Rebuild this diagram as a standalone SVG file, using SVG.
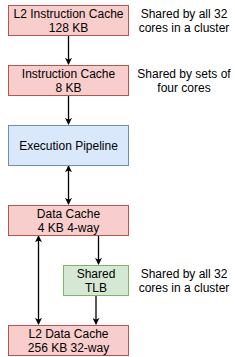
<svg xmlns="http://www.w3.org/2000/svg" width="235" height="357" viewBox="0 0 235 357">
<style>
text{font-family:"Liberation Sans",Arial,sans-serif;font-size:12px;fill:#000;text-anchor:middle}
.r{fill:#f8cecc;stroke:#b85450}
.b{fill:#dae8fc;stroke:#6c8ebf}
.g{fill:#d5e8d4;stroke:#82b366}
.c{stroke:#000;stroke-width:1.3;fill:none}
</style>
<defs>
<marker id="a" viewBox="0 0 8 8" refX="7" refY="4" markerWidth="7" markerHeight="7" markerUnits="userSpaceOnUse" orient="auto-start-reverse">
<path d="M0,0 L8,4 L0,8 L2,4 Z" fill="#000"/>
</marker>
</defs>
<g id="connectors">
<line class="c" x1="68.5" y1="35" x2="68.5" y2="64" marker-end="url(#a)"/>
<line class="c" x1="68.5" y1="95" x2="68.5" y2="124" marker-end="url(#a)"/>
<line class="c" x1="68.5" y1="166" x2="68.5" y2="204" marker-start="url(#a)" marker-end="url(#a)"/>
<line class="c" x1="98.5" y1="235" x2="98.5" y2="264" marker-end="url(#a)"/>
<line class="c" x1="96" y1="295" x2="96" y2="324" marker-end="url(#a)"/>
<line class="c" x1="38.5" y1="236" x2="38.5" y2="324" marker-start="url(#a)" marker-end="url(#a)"/>
</g>
<g id="l2ic"><rect class="r" x="8.5" y="5.5" width="120" height="30"/><text x="68.5" y="18">L2 Instruction Cache</text><text x="68.5" y="32">128 KB</text></g>
<g id="ic"><rect class="r" x="8.5" y="65.5" width="120" height="30"/><text x="68.5" y="78">Instruction Cache</text><text x="68.5" y="92">8 KB</text></g>
<g id="ep"><rect class="b" x="8.5" y="125.5" width="120" height="40"/><text x="68.5" y="149.5">Execution Pipeline</text></g>
<g id="dc"><rect class="r" x="8.5" y="205.5" width="120" height="30"/><text x="68.5" y="218">Data Cache</text><text x="68.5" y="232">4 KB 4-way</text></g>
<g id="tlb"><rect class="g" x="63.5" y="265.5" width="65" height="30"/><text x="96" y="278">Shared</text><text x="96" y="292">TLB</text></g>
<g id="l2dc"><rect class="r" x="8.5" y="325.5" width="120" height="30"/><text x="68.5" y="338">L2 Data Cache</text><text x="68.5" y="352">256 KB 32-way</text></g>
<g id="note1"><text x="184" y="18">Shared by all 32</text><text x="184" y="32">cores in a cluster</text></g>
<g id="note2"><text x="184" y="78">Shared by sets of</text><text x="184" y="92">four cores</text></g>
<g id="note3"><text x="184" y="278">Shared by all 32</text><text x="184" y="292">cores in a cluster</text></g>
</svg>
